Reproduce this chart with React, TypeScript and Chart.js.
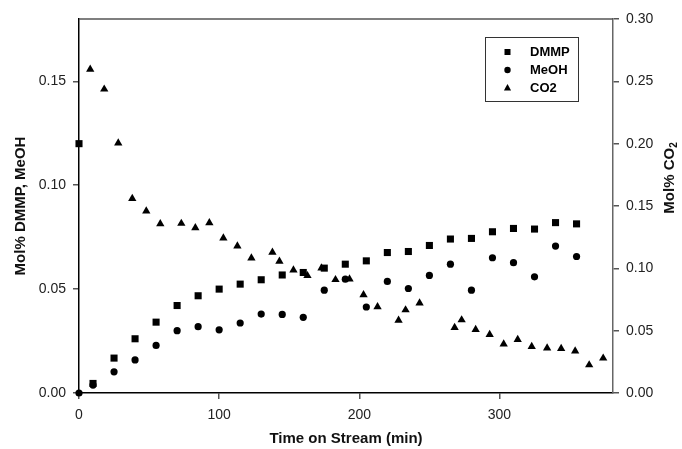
import React, { useEffect, useRef } from "react";
import { Chart, registerables } from "chart.js";

Chart.register(...registerables);

const timeMain = [0, 10, 25, 40, 55, 70, 85, 100, 115, 130, 145, 160, 175, 190, 205, 220, 235, 250, 265, 280, 295, 310, 325, 340, 355];
const dmmp = [0.12, 0.0046, 0.0168, 0.0261, 0.0341, 0.0421, 0.0468, 0.05, 0.0524, 0.0545, 0.0568, 0.058, 0.0601, 0.062, 0.0636, 0.0676, 0.0681, 0.071, 0.0741, 0.0744, 0.0776, 0.0792, 0.0789, 0.082, 0.0814];
const meoh = [0, 0.0038, 0.0102, 0.0159, 0.0229, 0.03, 0.0319, 0.0304, 0.0337, 0.038, 0.0378, 0.0364, 0.0495, 0.0548, 0.0414, 0.0537, 0.0503, 0.0566, 0.062, 0.0495, 0.0651, 0.0627, 0.0559, 0.0707, 0.0657];
const timeCO2 = [8, 18, 28, 38, 48, 58, 73, 83, 93, 103, 113, 123, 138, 143, 153, 163, 173, 183, 193, 203, 213, 228, 233, 243, 268, 273, 283, 293, 303, 313, 323, 334, 344, 354, 364, 374];
const co2 = [0.2597, 0.2437, 0.2004, 0.156, 0.1459, 0.1357, 0.136, 0.1325, 0.1365, 0.1243, 0.1179, 0.1082, 0.1128, 0.1056, 0.0986, 0.0941, 0.1002, 0.0909, 0.0914, 0.0788, 0.0692, 0.0583, 0.0666, 0.0722, 0.0524, 0.0586, 0.0508, 0.0468, 0.0393, 0.0428, 0.0372, 0.0361, 0.0356, 0.0337, 0.0225, 0.0279];

const xTicks = [0, 100, 200, 300];
const yLeftTicks = [0, 0.05, 0.1, 0.15];
const yRightTicks = [0, 0.05, 0.1, 0.15, 0.2, 0.25, 0.3];
const seriesNames = ["DMMP", "MeOH", "CO2"];

const FONT = "'Liberation Sans', Arial, sans-serif";

const overlay = {
  id: "overlay",
  afterDraw(chart: any) {
    const ctx = chart.ctx;
    const a = chart.chartArea;
    ctx.save();
    // top border
    ctx.strokeStyle = "#555";
    ctx.lineWidth = 1.5;
    ctx.beginPath();
    ctx.moveTo(a.left, a.top);
    ctx.lineTo(a.right, a.top);
    ctx.stroke();

    // axis titles
    ctx.fillStyle = "#111";
    ctx.font = `bold 15px ${FONT}`;
    ctx.textAlign = "center";
    ctx.textBaseline = "middle";
    ctx.fillText("Time on Stream (min)", 346, 439);

    ctx.save();
    ctx.translate(21, 206);
    ctx.rotate(-Math.PI / 2);
    ctx.fillText("Mol% DMMP, MeOH", 0, 0);
    ctx.restore();

    ctx.save();
    ctx.translate(670, 178);
    ctx.rotate(-Math.PI / 2);
    const main = "Mol% CO";
    ctx.font = `bold 15px ${FONT}`;
    const w1 = ctx.measureText(main).width;
    ctx.font = `bold 10px ${FONT}`;
    const w2 = ctx.measureText("2").width;
    const start = -(w1 + w2) / 2;
    ctx.textAlign = "left";
    ctx.font = `bold 15px ${FONT}`;
    ctx.fillText(main, start, 0);
    ctx.font = `bold 10px ${FONT}`;
    ctx.fillText("2", start + w1, 4);
    ctx.restore();

    // legend
    const lx = 485.5, ly = 37.5, lw = 93, lh = 64;
    ctx.fillStyle = "#fff";
    ctx.fillRect(lx, ly, lw, lh);
    ctx.strokeStyle = "#333";
    ctx.lineWidth = 1;
    ctx.strokeRect(lx, ly, lw, lh);
    const rows = [52, 70, 88];
    ctx.fillStyle = "#000";
    ctx.font = `bold 13px ${FONT}`;
    ctx.textAlign = "left";
    ctx.textBaseline = "middle";
    seriesNames.forEach((name, i) => {
      const mx = 507.5, my = rows[i];
      ctx.beginPath();
      if (i === 0) {
        ctx.rect(mx - 3, my - 3, 6, 6);
      } else if (i === 1) {
        ctx.arc(mx, my, 3.2, 0, Math.PI * 2);
      } else {
        ctx.moveTo(mx, my - 4);
        ctx.lineTo(mx + 3.6, my + 2.5);
        ctx.lineTo(mx - 3.6, my + 2.5);
        ctx.closePath();
      }
      ctx.fill();
      ctx.fillText(name, 530, my + 0.5);
    });
    ctx.restore();
  },
};

export default function App() {
  const ref = useRef<HTMLCanvasElement | null>(null);
  useEffect(() => {
    if (!ref.current) return;
    const chart = new Chart(ref.current, {
      type: "scatter",
      data: {
        datasets: [
          {
            label: seriesNames[0],
            data: timeMain.map((t, i) => ({ x: t, y: dmmp[i] })),
            yAxisID: "y",
            pointStyle: "rect",
            pointRadius: 5,
            backgroundColor: "#000",
            borderColor: "#000",
            borderWidth: 0,
            clip: false as any,
          },
          {
            label: seriesNames[1],
            data: timeMain.map((t, i) => ({ x: t, y: meoh[i] })),
            yAxisID: "y",
            pointStyle: "circle",
            pointRadius: 3.6,
            backgroundColor: "#000",
            borderColor: "#000",
            borderWidth: 0,
            clip: false as any,
          },
          {
            label: seriesNames[2],
            data: timeCO2.map((t, i) => ({ x: t, y: co2[i] })),
            yAxisID: "y2",
            pointStyle: "triangle",
            pointRadius: 4.8,
            backgroundColor: "#000",
            borderColor: "#000",
            borderWidth: 0,
            clip: false as any,
          },
        ],
      },
      options: {
        responsive: false,
        animation: false,
        layout: { padding: { top: 19, left: 0, right: 0, bottom: 0 } },
        plugins: { legend: { display: false }, tooltip: { enabled: false } },
        scales: {
          x: {
            type: "linear",
            min: 0,
            max: 381,
            afterBuildTicks: (s: any) => {
              s.ticks = xTicks.map((v) => ({ value: v }));
            },
            afterFit: (s: any) => {
              s.height = 56;
            },
            grid: { drawOnChartArea: false, drawTicks: true, tickLength: 6, color: "#555", lineWidth: 1.5 },
            border: { display: true, color: "#000", width: 1.5 },
            ticks: {
              font: { family: FONT, size: 14 },
              color: "#222",
              padding: 8,
              maxRotation: 0,
              callback: (v: any) => String(v),
            },
          },
          y: {
            type: "linear",
            position: "left",
            min: 0,
            max: 0.18,
            afterBuildTicks: (s: any) => {
              s.ticks = yLeftTicks.map((v) => ({ value: v }));
            },
            afterFit: (s: any) => {
              s.width = 79;
            },
            grid: { drawOnChartArea: false, drawTicks: true, tickLength: 6, color: "#555", lineWidth: 1.5 },
            border: { display: true, color: "#000", width: 1.5 },
            ticks: {
              font: { family: FONT, size: 14 },
              color: "#222",
              padding: 7,
              callback: (v: any) => Number(v).toFixed(2),
            },
          },
          y2: {
            type: "linear",
            position: "right",
            min: 0,
            max: 0.3,
            afterBuildTicks: (s: any) => {
              s.ticks = yRightTicks.map((v) => ({ value: v }));
            },
            afterFit: (s: any) => {
              s.width = 69;
            },
            grid: { drawOnChartArea: false, drawTicks: true, tickLength: 6, color: "#555", lineWidth: 1.5 },
            border: { display: true, color: "#666", width: 1.5 },
            ticks: {
              font: { family: FONT, size: 14 },
              color: "#222",
              padding: 7,
              callback: (v: any) => Number(v).toFixed(2),
            },
          },
        },
      },
      plugins: [overlay],
    });
    return () => chart.destroy();
  }, []);
  return (
    <div style={{ position: "absolute", left: 0, top: 0, width: 682, height: 449, background: "#fff" }}>
      <canvas ref={ref} width={682} height={449} />
    </div>
  );
}
